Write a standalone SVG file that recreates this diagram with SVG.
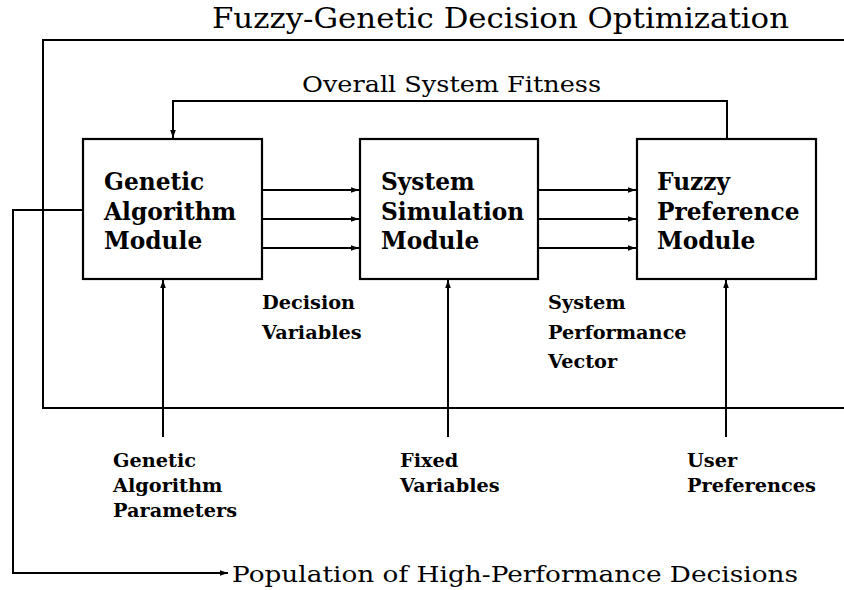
<svg xmlns="http://www.w3.org/2000/svg" width="844" height="590" viewBox="0 0 844 590">
<style>
.ln{fill:none;stroke:#000;stroke-width:2}
.box{fill:#fff;stroke:#000;stroke-width:2.2}
.bt{font-family:"DejaVu Serif","Liberation Serif",serif;font-weight:bold;font-size:23.3px;fill:#000}
.lb{font-family:"DejaVu Serif","Liberation Serif",serif;font-weight:bold;font-size:19.3px;fill:#000}
.tt{font-family:"DejaVu Serif","Liberation Serif",serif;font-size:27px;fill:#000}
.st{font-family:"DejaVu Serif","Liberation Serif",serif;font-size:23px;fill:#000}
</style>
<defs>
<marker id="ah" markerUnits="userSpaceOnUse" markerWidth="9" markerHeight="8" refX="8" refY="4" orient="auto">
<path d="M0,1.2 L8,4 L0,6.8 Z" fill="#000"/>
</marker>
</defs>
<rect width="844" height="590" fill="#fff"/>
<text class="tt" x="212" y="28" textLength="577" lengthAdjust="spacingAndGlyphs">Fuzzy-Genetic Decision Optimization</text>
<text class="st" x="302" y="92" textLength="299" lengthAdjust="spacingAndGlyphs">Overall System Fitness</text>
<g id="connectors">
<path class="ln" d="M844,40 H43 V408 H844"/>
<path class="ln" d="M727,139 V101 H173 V138" marker-end="url(#ah)"/>
<path class="ln" d="M262,190 H359" marker-end="url(#ah)"/>
<path class="ln" d="M262,219 H359" marker-end="url(#ah)"/>
<path class="ln" d="M262,248 H359" marker-end="url(#ah)"/>
<path class="ln" d="M538,190 H636" marker-end="url(#ah)"/>
<path class="ln" d="M538,219 H636" marker-end="url(#ah)"/>
<path class="ln" d="M538,248 H636" marker-end="url(#ah)"/>
<path class="ln" d="M163,437 V280" marker-end="url(#ah)"/>
<path class="ln" d="M448,437 V280" marker-end="url(#ah)"/>
<path class="ln" d="M726,437 V280" marker-end="url(#ah)"/>
<path class="ln" d="M83,210 H13 V573 H228" marker-end="url(#ah)"/>
</g>
<g id="ga">
<rect class="box" x="83" y="139" width="179" height="140"/>
<text class="bt" x="104" y="190">Genetic</text>
<text class="bt" x="104" y="220">Algorithm</text>
<text class="bt" x="104" y="249">Module</text>
</g>
<g id="sim">
<rect class="box" x="360" y="139" width="178" height="140"/>
<text class="bt" x="381" y="190">System</text>
<text class="bt" x="381" y="220">Simulation</text>
<text class="bt" x="381" y="249">Module</text>
</g>
<g id="fuzzy">
<rect class="box" x="637" y="139" width="179" height="140"/>
<text class="bt" x="657" y="190">Fuzzy</text>
<text class="bt" x="657" y="220">Preference</text>
<text class="bt" x="657" y="249">Module</text>
</g>
<g id="labels">
<text class="lb" x="262" y="309">Decision</text>
<text class="lb" x="262" y="339">Variables</text>
<text class="lb" x="548" y="309">System</text>
<text class="lb" x="548" y="339">Performance</text>
<text class="lb" x="548" y="368">Vector</text>
<text class="lb" x="113" y="467">Genetic</text>
<text class="lb" x="113" y="492">Algorithm</text>
<text class="lb" x="113" y="517">Parameters</text>
<text class="lb" x="400" y="467">Fixed</text>
<text class="lb" x="400" y="492">Variables</text>
<text class="lb" x="687" y="467">User</text>
<text class="lb" x="687" y="492">Preferences</text>
</g>
<text class="st" x="232" y="582" textLength="566" lengthAdjust="spacingAndGlyphs">Population of High-Performance Decisions</text>
</svg>
